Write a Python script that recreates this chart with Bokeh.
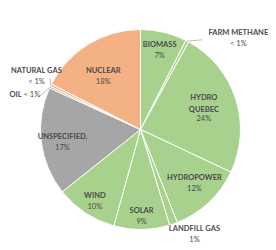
import math
from bokeh.plotting import figure
from bokeh.models import Range1d, ColumnDataSource
from bokeh.core.properties import value
from bokeh.embed import file_html
from bokeh.resources import INLINE

# ---- data ----
sources = ["BIOMASS", "FARM METHANE", "HYDRO\nQUEBEC", "HYDROPOWER", "LANDFILL GAS",
           "SOLAR", "WIND", "UNSPECIFIED,", "OIL", "NATURAL GAS", "NUCLEAR"]
shares = [7.5, 0.5, 24.0, 12.0, 1.3, 9.0, 10.0, 17.5, 0.3, 0.4, 17.5]
pct_labels = ["7%", "< 1%", "24%", "12%", "1%", "9%", "10%", "17%", "< 1%", "< 1%", "18%"]
groups = ["renew", "renew", "renew", "renew", "renew", "renew", "renew",
          "unspec", "unspec", "nonrenew", "nonrenew"]

# ---- style / layout ----
group_colors = {"renew": "#a9d18e", "unspec": "#a6a6a6", "nonrenew": "#f4b183"}
W, H = 276, 250
CX, CY, R = 140, 129, 100          # screen coords of pie centre, radius
label_dtheta = [0, 19, -1, -2, -8, 0, -1, -2, -8.5, 1, -3.5]
label_r = [82, 134, 67, 76, 118, 87, 85, 79, 123, 117, 65]
inline = [False] * 8 + [True, False, False]
leaders = {1: (34.6, 109), 8: (287.4, 107), 9: (299.5, 104)}
LH = 10
TXT = "#4a4a4a"
FONT = "Lato"
FS = "7.5px"

def polar(theta_deg, r):
    t = math.radians(theta_deg)
    xs = CX + r * math.sin(t)
    ys = CY - r * math.cos(t)
    return xs, H - ys  # data coords (y up)

total = sum(shares)
starts, ends, mids = [], [], []
acc = 0.0
for s in shares:
    a0 = acc / total * 360
    acc += s
    a1 = acc / total * 360
    starts.append(a0); ends.append(a1); mids.append((a0 + a1) / 2)

p = figure(width=W, height=H, output_backend="svg", toolbar_location=None,
           x_range=Range1d(0, W), y_range=Range1d(0, H), min_border=0)
p.axis.visible = False
p.grid.visible = False
p.outline_line_color = None
p.background_fill_color = "white"

src = ColumnDataSource(dict(
    x=[CX] * len(shares), y=[H - CY] * len(shares),
    start=[math.radians(90 - a) for a in starts],
    end=[math.radians(90 - a) for a in ends],
    color=[group_colors[g] for g in groups],
))
p.wedge(x="x", y="y", radius=R, start_angle="start", end_angle="end",
        direction="clock", fill_color="color", line_color="white", line_width=1, source=src)

# leader lines
for i, (th, rr) in leaders.items():
    x0, y0 = polar(mids[i], R)
    x1, y1 = polar(th, rr)
    p.line([x0, x1], [y0, y1], line_color="#bfbfbf", line_width=1)

# labels
nx, ny, ntext, px, py, ptext = [], [], [], [], [], []
ix, iy, itext, jx, jy, jtext = [], [], [], [], [], []
for i, name in enumerate(sources):
    lx, ly = polar(mids[i] + label_dtheta[i], label_r[i])
    if inline[i]:
        ix.append(lx - 1); iy.append(ly); itext.append(name)
        jx.append(lx + 1); jy.append(ly); jtext.append(pct_labels[i])
        continue
    n = name.count("\n") + 1
    L = n + 1
    nx.append(lx); ny.append(ly + L / 2 * LH); ntext.append(name)
    px.append(lx); py.append(ly - L / 2 * LH); ptext.append(pct_labels[i])

p.text(nx, ny, text=ntext, text_align="center", text_baseline="top",
       text_font=value(FONT), text_font_size=FS, text_font_style="bold",
       text_color=TXT, text_line_height=LH / 7.5)
p.text(px, py, text=ptext, text_align="center", text_baseline="bottom",
       text_font=value(FONT), text_font_size=FS, text_color=TXT)
p.text(ix, iy, text=itext, text_align="right", text_baseline="middle",
       text_font=value(FONT), text_font_size=FS, text_font_style="bold", text_color=TXT)
p.text(jx, jy, text=jtext, text_align="left", text_baseline="middle",
       text_font=value(FONT), text_font_size=FS, text_color=TXT)

open("out.html", "w").write(file_html(p, INLINE))
